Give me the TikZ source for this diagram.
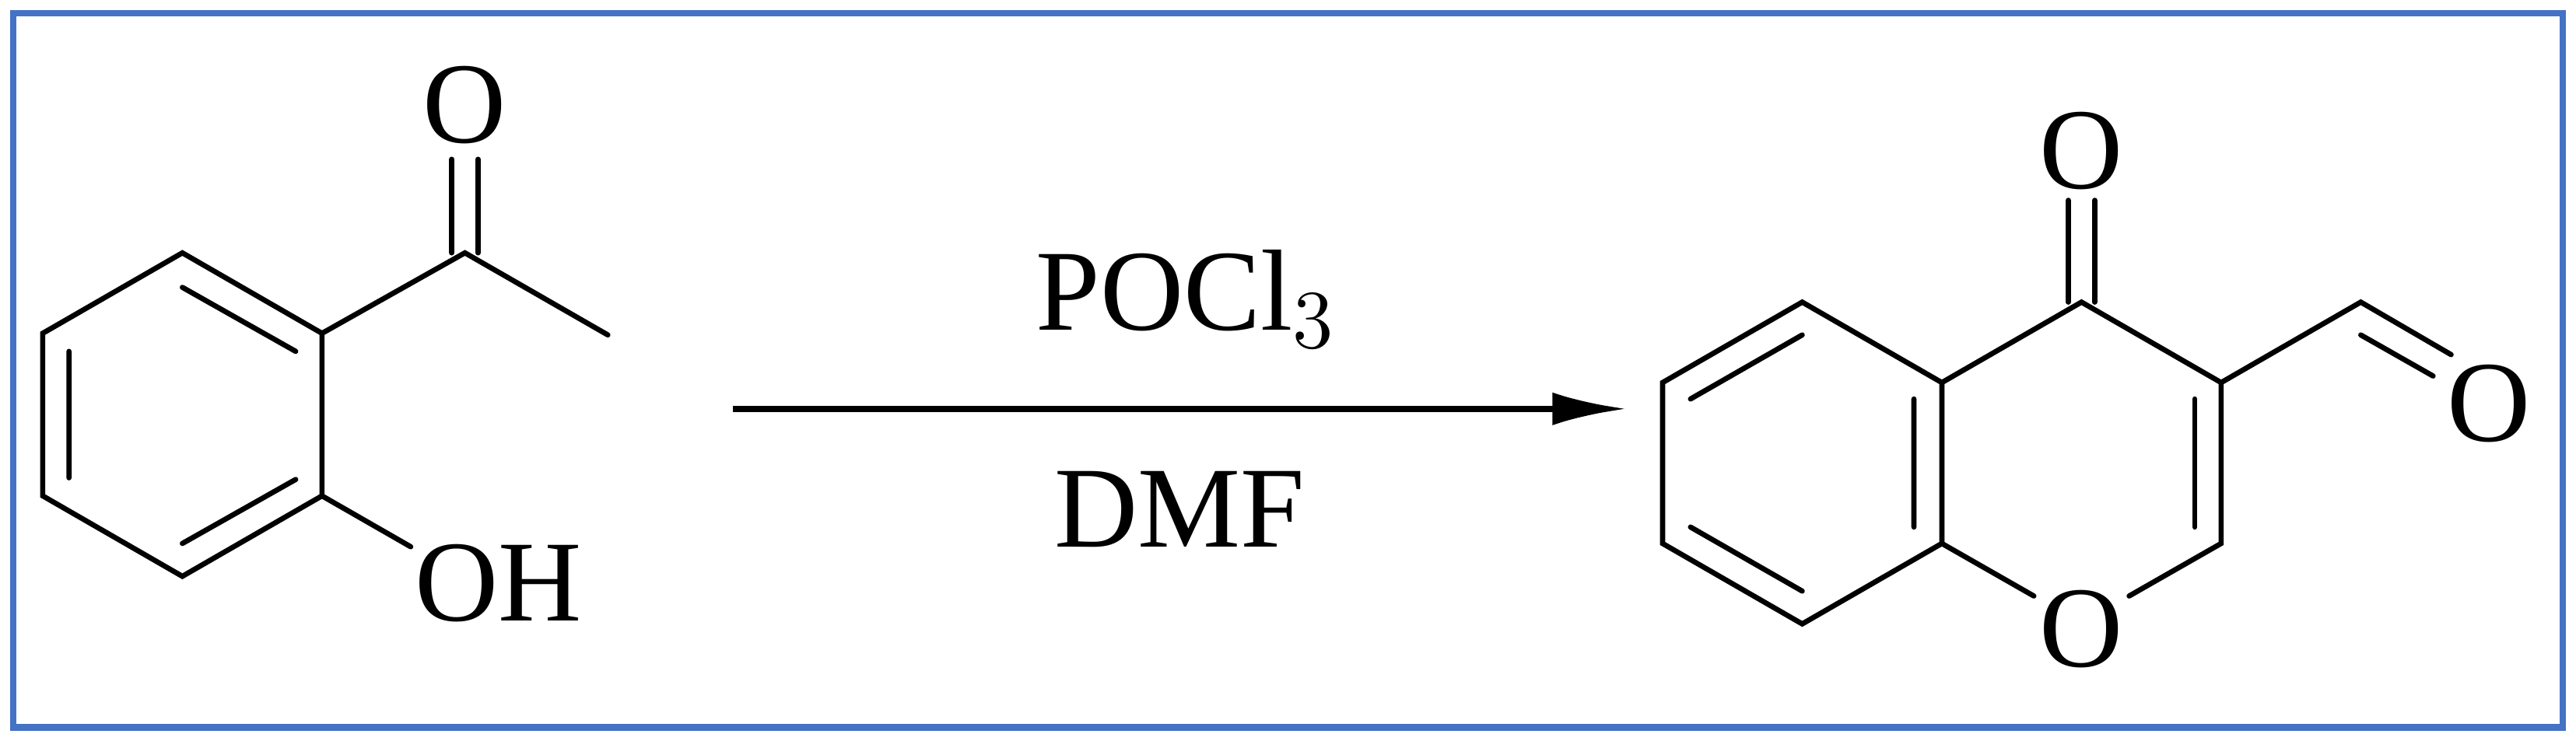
\documentclass[tikz,border=0pt]{standalone}
\usepackage{fontspec}
\setmainfont{Liberation Serif}
\usetikzlibrary{arrows.meta}
\definecolor{frame}{RGB}{68,114,196}
\begin{document}
\begin{tikzpicture}[x=0.01cm,y=-0.01cm,
  bond/.style={line width=0.9pt,line cap=round},
  lbl/.style={font=\fontsize{20}{22}\selectfont,inner sep=0pt}]
\useasboundingbox (0,0) rectangle (1568,451);
\draw[frame,line width=1.1pt] (8,8) rectangle (1560,443);
% left molecule
\coordinate (a1) at (111,154); \coordinate (a2) at (196,203); \coordinate (a3) at (196,302);
\coordinate (a4) at (111,351); \coordinate (a5) at (26,302); \coordinate (a6) at (26,203);
\draw[bond] (a1)--(a2)--(a3)--(a4)--(a5)--(a6)--cycle;
\draw[bond] (111,175)--(180,214) (42,214)--(42,291) (111,331)--(180,292);
\coordinate (c1) at (283,154); \coordinate (me) at (370,204);
\draw[bond] (a2)--(c1)--(me);
\draw[bond] (275,97)--(275,154) (291,97)--(291,154);
\node[lbl] (o1) at (283,64) {O};
\draw[bond] (a3)--(250,333);
\node[lbl,anchor=west] (oh) at (252,355) {OH};
% arrow
\coordinate (s) at (446,249); \coordinate (e) at (990,249);
\draw[line width=1.1pt,-{Latex[length=0.45cm,width=0.2cm]}] (s)--(e);
\node[lbl] (r1) at (722,182) {POCl$_3$};
\node[lbl] (r2) at (718,310) {DMF};
% right molecule
\coordinate (b1) at (1097,184); \coordinate (b2) at (1182,233); \coordinate (b3) at (1182,331);
\coordinate (b4) at (1097,380); \coordinate (b5) at (1012,331); \coordinate (b6) at (1012,233);
\draw[bond] (b1)--(b2)--(b3)--(b4)--(b5)--(b6)--cycle;
\draw[bond] (1029,243)--(1097,204) (1029,321)--(1097,360) (1165,243)--(1165,321);
\coordinate (p1) at (1267,184); \coordinate (p2) at (1352,233); \coordinate (p3) at (1352,331);
\draw[bond] (b2)--(p1)--(p2)--(p3)--(1296,363);
\draw[bond] (b3)--(1238,363);
\draw[bond] (1336,243)--(1336,321);
\node[lbl] (o2) at (1267,383) {O};
\draw[bond] (1259,122)--(1259,184) (1275,122)--(1275,184);
\node[lbl] (o3) at (1267,92) {O};
\coordinate (ch) at (1437,184);
\draw[bond] (p2)--(ch)--(1492,216) (1437,204)--(1481,229);
\node[lbl] (o4) at (1515,246) {O};
\end{tikzpicture}
\end{document}
